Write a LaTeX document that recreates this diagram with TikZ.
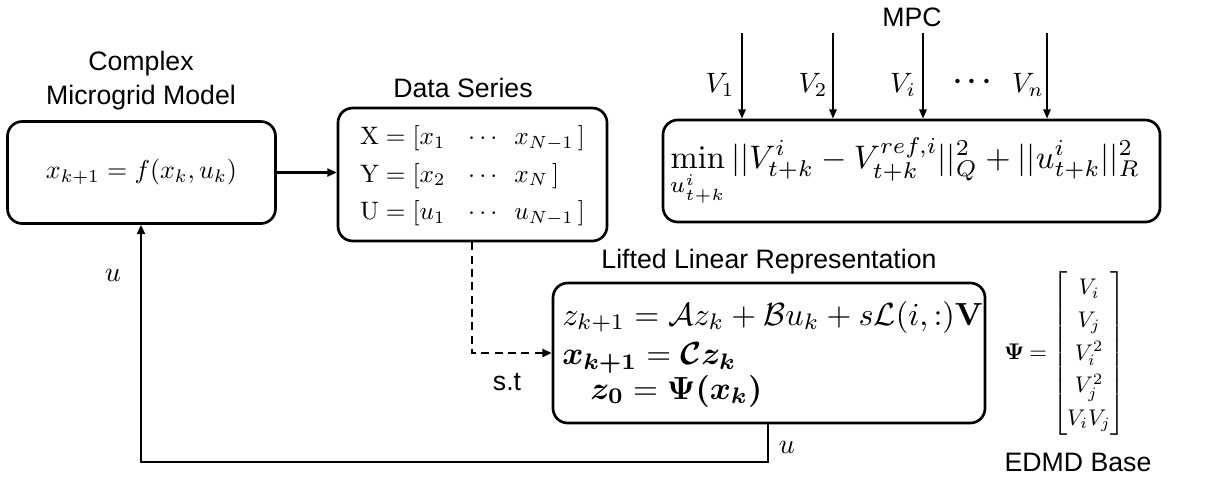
\documentclass[tikz,border=0pt]{standalone}
\usepackage{amsmath,amssymb,bm}
\usepackage[no-math]{fontspec}
\newfontfamily\arial{Liberation Sans}
\usetikzlibrary{arrows.meta}
\newsavebox\rowbox
\newlength\rowwd
\newcommand\lblm[1]{\scalebox{2.1}{$#1$}}
\begin{document}
\begin{tikzpicture}[x=0.75pt,y=-0.75pt,
  box/.style={draw,line width=2pt,rounded corners=11pt,inner sep=0pt},
  title/.style={font=\arial\fontsize{20}{25.5}\selectfont,inner sep=0pt},
  arr/.style={line width=1.8pt,-{Triangle[length=7pt,width=6pt]}},
  varr/.style={line width=1.5pt,-{Triangle[length=7pt,width=5.5pt]}},
  lbl/.style={inner sep=0pt}]
\useasboundingbox (0,0) rectangle (1219,482);
\sbox\rowbox{$z_{k+1} = \mathcal{A}z_k + \mathcal{B}u_k + s\mathcal{L}(i,:)\mathbf{V}$}
\setlength\rowwd{\wd\rowbox}
\pgfmathsetmacro\lsc{315.75pt/\rowwd}

% boxes
\node[box,minimum width=201pt,minimum height=76.5pt] (m1) at (141.5,172.5)
  {\resizebox{143.25pt}{!}{$x_{k+1} = f(x_k,u_k)$}};
\node[box,minimum width=201.75pt,minimum height=99.75pt] (ds) at (472.5,174.5)
  {\resizebox{168.75pt}{!}{\renewcommand\arraystretch{1.25}$\begin{array}{@{}l@{\hspace{0.9em}}c@{\hspace{0.5em}}l@{}}
   \mathrm{X} = [x_1 & \cdots & x_{N-1}\,] \\
   \mathrm{Y} = [x_2 & \cdots & x_N\,] \\
   \mathrm{U} = [u_1 & \cdots & u_{N-1}\,]
   \end{array}$}};
\node[box,minimum width=372.75pt,minimum height=76.5pt] (mpc) at (911.5,171) {};
\node[inner sep=0pt] (mpcf) at (905,172)
  {\resizebox{352.5pt}{!}{$\displaystyle\min_{u^i_{t+k}} ||V^i_{t+k} - V^{ref,i}_{t+k}||^2_Q + ||u^i_{t+k}||^2_R$}};
\node[box,minimum width=324pt,minimum height=105pt] (lift) at (769,353) {};
\node[anchor=west,inner sep=0pt] (r1) at (562,317) {\scalebox{\lsc}{\usebox\rowbox}};
\node[anchor=west,inner sep=0pt] (r2) at (562,358) {\scalebox{\lsc}{$\bm{x_{k+1}} = \bm{\mathcal{C}z_k}$}};
\node[anchor=west,inner sep=0pt] (r3) at (590,391) {\scalebox{\lsc}{$\bm{z_0} = \bm{\Psi(x_k)}$}};

% titles
\node[title,align=center] (t1) at (141,81) {Complex\\Microgrid Model};
\node[title] (t2) at (463,88) {Data Series};
\node[title] (t3) at (912,17) {MPC};
\node[title] (t4) at (769,262) {Lifted Linear Representation};
\node[title] (t5) at (1078,462) {EDMD Base};
\node[title] (st) at (507,382) {s.t};

% EDMD base vector
\node[inner sep=0pt] (psi) at (1065,353.5)
  {\scalebox{1.7}{\renewcommand\arraystretch{1.2}\setlength\arraycolsep{0.5pt}\thickmuskip=4mu$\bm{\Psi} = \begin{bmatrix} V_i\\ V_j\\ V_i^2\\ V_j^2\\ V_iV_j\end{bmatrix}$}};

% MPC inputs
\foreach \x/\lx/\lab [count=\i] in {742/720/V_1, 833/813/V_2, 923/903/V_i, 1047/1028/V_n}{
  \coordinate (in\i) at (\x,33);
  \draw[varr] (in\i) -- (in\i |- mpc.north);
  \node[lbl] (vl\i) at (\lx,85) {\lblm{\lab}};
}
\node[lbl] (dots) at (975,82) {\lblm{\bm{\cdots}}};

% connectors
\draw[arr] (m1.east) -- (m1.east -| ds.west);
\coordinate (dsx) at (472,353);
\draw[line width=1.8pt,dash pattern=on 6pt off 4pt,-{Triangle[length=7pt,width=6pt]}]
  (dsx |- ds.south) -- (dsx) -- (dsx -| lift.west);
\coordinate (fbR) at (768,462);
\coordinate (fbL) at (141,462);
\draw[arr] (fbR |- lift.south) -- (fbR) -- (fbL) -- (fbL |- m1.south);
\node[lbl] (u1) at (113,275) {\lblm{u}};
\node[lbl] (u2) at (787,447) {\lblm{u}};
\end{tikzpicture}
\end{document}
